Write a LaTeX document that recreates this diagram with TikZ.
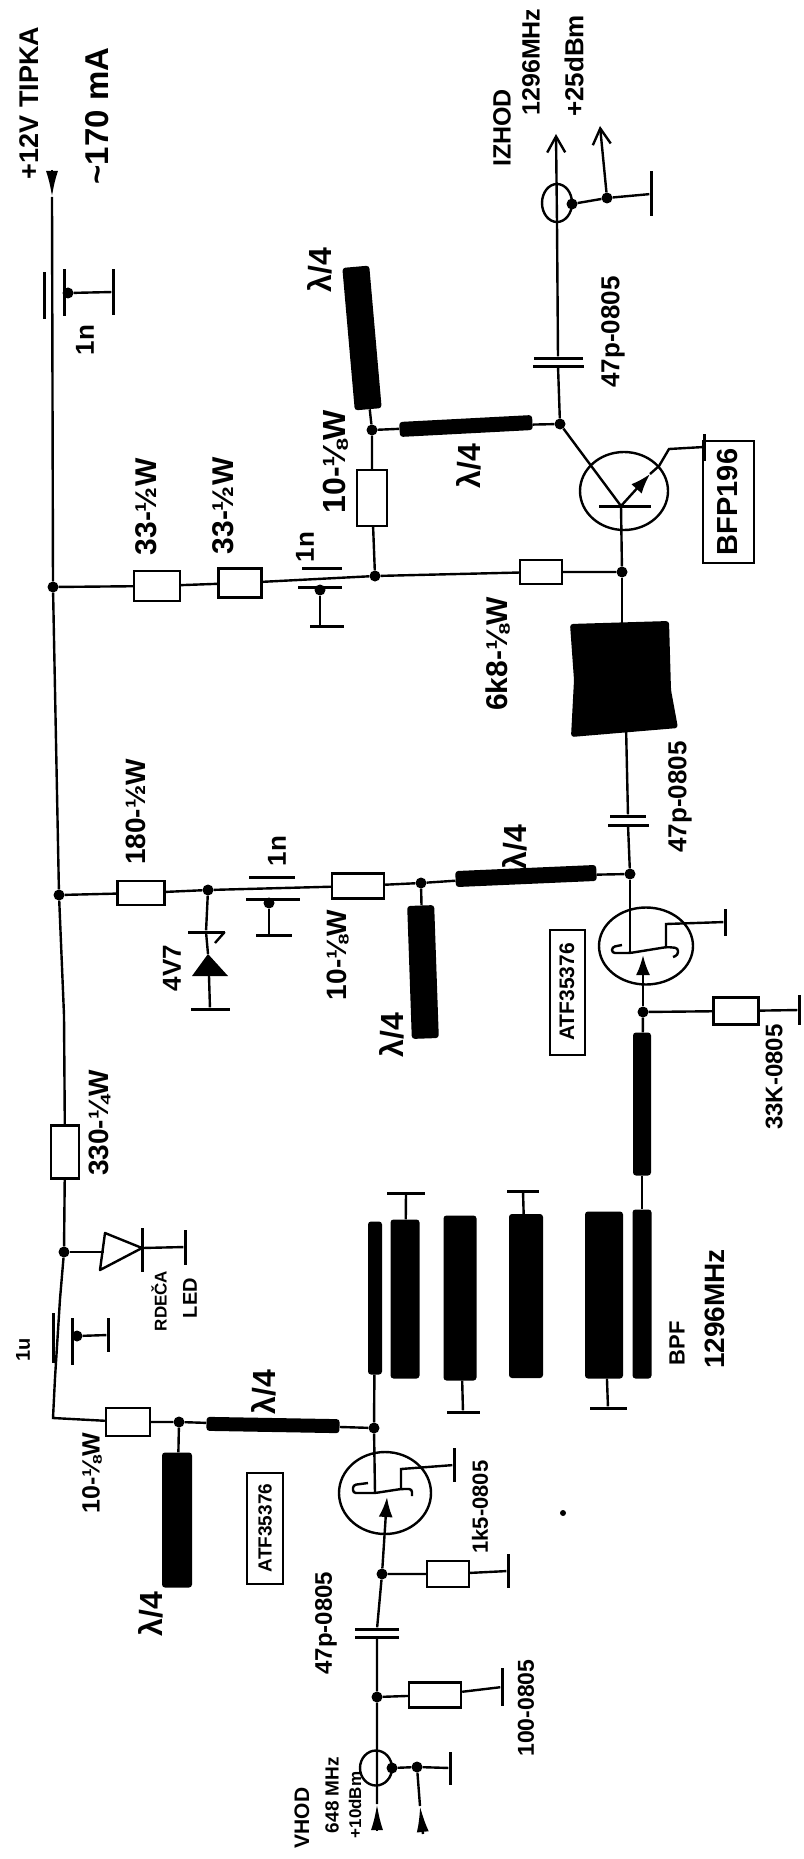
\documentclass[tikz,border=0pt]{standalone}
\usepackage{fontspec}
\setmainfont{Liberation Sans}
\usetikzlibrary{arrows.meta,shapes.geometric}
\tikzset{
	wire/.style={line width=2.4pt},
	dot/.style={circle,fill=black,inner sep=0pt,minimum size=11pt},
	res/.style={draw,line width=2.4pt,fill=white,inner sep=0pt},
	strip/.style={fill=black,rounded corners=3pt,inner sep=0pt},
	vbar/.style={fill=black,inner sep=0pt,minimum width=3pt},
	hbar/.style={fill=black,inner sep=0pt,minimum height=3pt},
	can/.style={draw,ellipse,line width=2.4pt,inner sep=0pt},
	lab/.style={rotate=90,inner sep=0pt,font=\bfseries\fontsize{#1}{#1}\selectfont},
	lab/.default=26,
	part/.style={draw,line width=2pt,rotate=90,inner sep=3pt,font=\bfseries\fontsize{#1}{#1}\selectfont},
	outarrow/.style={wire,-{Straight Barb[length=16pt,width=18pt,line width=2.4pt]}},
	wedge/.style={wire,-{Latex[length=26pt,width=12pt]}},
	gatearrow/.style={wire,-{Latex[length=20pt,width=14pt]}}
}
\begin{document}
\begin{tikzpicture}[x=1pt,y=-1pt]
	\useasboundingbox (0,0) rectangle (803,1859);
	\coordinate (T0) at (52,170);
	\coordinate (T1) at (52,197);
	\node [dot] (B1) at (53,587) {};
	\node [dot] (B2) at (59,895) {};
	\coordinate (B2a) at (64,1015);
	\node [res,minimum width=28pt,minimum height=53pt] (R1) at (65,1152) {};
	\node [dot] (B3) at (64,1252) {};
	\coordinate (B4) at (60,1299);
	\coordinate (B5) at (55,1378);
	\coordinate (B6) at (53,1418);
	\node [res,minimum width=44pt,minimum height=28pt] (R2) at (128,1422) {};
	\node [dot] (J1) at (179,1422) {};
	\draw [wedge] (T0) -- (T1);
	\draw [wire] (T1) -- (B1) -- (B2) -- (B2a) -- (R1) -- (B3) -- (B4) -- (B5) -- (B6) -- (R2) -- (J1);

	\node [vbar,minimum height=47pt] (C1a) at (44,296) {};
	\node [vbar,minimum height=47pt] (C1b) at (64,293) {};
	\node [dot] (C1c) at (68,293) {};
	\node [vbar,minimum height=46pt] (G1) at (113,292) {};
	\draw [wire] (C1c) -- (G1);

	\node [res,minimum width=46pt,minimum height=30pt] (R3) at (157,586) {};
	\node [res,minimum width=43pt,minimum height=29pt] (R4) at (240,583) {};
	\node [dot] (J2) at (375,576) {};
	\draw [wire] (B1) -- (R3) -- (R4) -- (J2);
	\node [hbar,minimum width=40pt] (C2a) at (322,568) {};
	\node [hbar,minimum width=44pt] (C2b) at (320,587) {};
	\node [dot] (C2c) at (320,590) {};
	\node [hbar,minimum width=34pt] (G2) at (327,626) {};
	\draw [wire] (C2c) -- (C2c |- G2);

	\node [res,minimum width=30pt,minimum height=56pt] (R5) at (372,498) {};
	\node [dot] (J3) at (372,430) {};
	\draw [wire] (J2) -- (R5) -- (J3);
	\node [strip,minimum width=27pt,minimum height=143pt,rotate=5] (S1) at (362,338) {};
	\draw [wire] (J3) -- (S1);
	\node [strip,minimum width=133pt,minimum height=15pt,rotate=3] (S2) at (466,426) {};
	\node [dot] (J4) at (560,424) {};
	\draw [wire] (J3) -- (S2) -- (J4);

	\node [hbar,minimum width=49pt] (C3a) at (558,358) {};
	\node [hbar,minimum width=51pt] (C3b) at (558,366) {};
	\node [can,minimum width=30pt,minimum height=38pt] (X1) at (557,203) {};
	\coordinate (O1) at (556,134);
	\draw [wire] (J4) -- (C3b) (C3a) -- (X1.south);
	\draw [outarrow] (X1.south) -- (O1);
	\node [dot] (X1a) at (572,204) {};
	\node [dot] (X1b) at (607,198) {};
	\node [vbar,minimum height=45pt] (G3) at (651,194) {};
	\coordinate (O2) at (600,126);
	\draw [wire] (X1a) -- (X1b) -- (G3);
	\draw [outarrow] (X1b) -- (O2);

	\node [can,minimum width=88pt,minimum height=78pt] (Q1) at (624,491) {};
	\coordinate (Q1e) at (621,506);
	\node [hbar,minimum width=52pt] (Q1b) at (625,506) {};
	\coordinate (Q1f) at (659,466);
	\coordinate (Q1g) at (669,449);
	\node [vbar,minimum height=27pt] (G4) at (704,447) {};
	\draw [wire] (J4) -- (Q1e);
	\draw [gatearrow] (Q1e) -- (650,474);
	\draw [wire] (650,474) -- (Q1f) -- (Q1g) -- (G4);
	\node [dot] (J5) at (622,572) {};
	\draw [wire] (Q1e) -- (J5);

	\node [res,minimum width=42pt,minimum height=24pt] (R6) at (541,572) {};
	\draw [wire] (J2) -- (R6) -- (J5);
	\coordinate (K1) at (622,624);
	\coordinate (K2) at (626,725);
	\fill [rounded corners=3pt] (570,624) -- (669,621) -- (671,690) -- (678,728) -- (571,737) -- (574,680) -- cycle;
	\draw [wire] (J5) -- (K1);

	\node [hbar,minimum width=36pt] (C4a) at (628,816) {};
	\node [hbar,minimum width=41pt] (C4b) at (628,825) {};
	\node [dot] (J6) at (630,874) {};
	\draw [wire] (K2) -- (C4a) (C4b) -- (J6);

	\node [res,minimum width=47pt,minimum height=24pt] (R7) at (141,893) {};
	\node [dot] (J7) at (208,890) {};
	\node [res,minimum width=52pt,minimum height=25pt] (R8) at (358,886) {};
	\node [dot] (J8) at (421,883) {};
	\draw [wire] (B2) -- (R7) -- (J7) -- (R8) -- (J8);
	\node [hbar,minimum width=46pt] (C5a) at (272,877) {};
	\node [hbar,minimum width=54pt] (C5b) at (273,899) {};
	\node [dot] (C5c) at (269,903) {};
	\node [hbar,minimum width=36pt] (G5) at (274,935) {};
	\draw [wire] (C5c) -- (C5c |- G5);
	\node [hbar,minimum width=37pt] (D1a) at (206,932) {};
	\draw [wire,line join=round] (D1a.east) -- (215,943);
	\coordinate (D1b) at (208,954);
	\coordinate (D1c) at (192,976);
	\coordinate (D1d) at (228,976);
	\coordinate (D1e) at (209,976);
	\node [hbar,minimum width=39pt] (G6) at (210,1009) {};
	\draw [wire] (J7) -- (D1a);
	\draw [wire] (D1a) -- (D1b);
	\fill (D1b) -- (D1d) -- (D1c) -- cycle;
	\draw [wire] (D1e) -- (G6);

	\node [strip,minimum width=141pt,minimum height=16pt,rotate=2.5] (S3) at (526,876) {};
	\draw [wire] (J8) -- (S3) -- (J6);
	\node [strip,minimum width=27pt,minimum height=133pt,rotate=2] (S4) at (423,972) {};
	\draw [wire] (J8) -- (S4);

	\node [can,minimum width=94pt,minimum height=77pt] (Q2) at (646,946) {};
	\coordinate (Q2d) at (630,953);
	\draw [wire] (J6) -- (Q2d);
	\draw [wire,rounded corners=3pt] (622,945) -- (612,947) -- (612,953) -- (Q2d) -- (667,947) -- (678,948) -- (678,955) -- (673,957);
	\coordinate (Q2s) at (666,947);
	\coordinate (Q2t) at (666,924);
	\node [vbar,minimum height=27pt] (G7) at (725,922) {};
	\draw [wire] (Q2s) -- (Q2t) -- (G7);
	\node [dot] (J9) at (643,1012) {};
	\coordinate (Q2g) at (643,955);
	\draw [gatearrow] (J9) -- (Q2g);
	\node [res,minimum width=45pt,minimum height=27pt] (R9) at (736,1011) {};
	\node [vbar,minimum height=30pt] (G8) at (799,1010) {};
	\draw [wire] (J9) -- (R9) -- (G8);

	\node [strip,minimum width=18pt,minimum height=143pt] (S5) at (642,1104) {};
	\draw [wire] (J9) -- (S5);
	\node [strip,minimum width=19pt,minimum height=169pt] (F6) at (642,1294) {};
	\draw [wire] (S5) -- (F6);
	\node [strip,minimum width=38pt,minimum height=167pt] (F5) at (604,1295) {};
	\node [strip,minimum width=34pt,minimum height=164pt] (F4) at (526,1296) {};
	\node [strip,minimum width=33pt,minimum height=165pt] (F3) at (460,1298) {};
	\node [strip,minimum width=29pt,minimum height=159pt] (F2) at (405,1299) {};
	\node [strip,minimum width=14pt,minimum height=153pt] (F1) at (375,1298) {};
	\node [hbar,minimum width=38pt] (G9) at (406,1193) {};
	\node [hbar,minimum width=32pt] (G10) at (523,1191) {};
	\node [hbar,minimum width=33pt] (G11) at (463,1412) {};
	\node [hbar,minimum width=37pt] (G12) at (608,1408) {};
	\draw [wire] (F2) -- (G9) (F4) -- (G10) (F3) -- (G11) (F5) -- (G12);

	\coordinate (L1a) at (104,1252);
	\coordinate (L1b) at (105,1233);
	\coordinate (L1c) at (100,1270);
	\coordinate (L1d) at (142,1248);
	\node [vbar,minimum height=44pt] (L1e) at (142,1250) {};
	\node [vbar,minimum height=35pt] (G13) at (185,1247) {};
	\draw [wire] (B3) -- (L1a);
	\draw [wire,line join=round] (L1c) -- (L1b) -- (L1d) -- cycle;
	\draw [wire] (L1d) -- (G13);

	\node [vbar,minimum height=50pt] (C6a) at (53,1338) {};
	\node [vbar,minimum height=47pt] (C6b) at (72,1341) {};
	\node [dot] (C6c) at (77,1336) {};
	\node [vbar,minimum height=34pt] (G14) at (108,1335) {};
	\draw [wire] (C6c) -- (G14);

	\node [strip,minimum width=133pt,minimum height=14pt,rotate=-1] (S6) at (273,1425) {};
	\node [dot] (J10) at (374,1428) {};
	\draw [wire] (J1) -- (S6) -- (J10) -- (F1);
	\node [strip,minimum width=30pt,minimum height=135pt] (S7) at (177,1520) {};
	\draw [wire] (J1) -- (S7);

	\node [can,minimum width=92pt,minimum height=82pt] (Q3) at (385,1493) {};
	\coordinate (Q3d) at (375,1493);
	\draw [wire] (J10) -- (Q3d);
	\draw [wire,rounded corners=3pt] (368,1483) -- (353,1485) -- (353,1493) -- (Q3d) -- (401,1489) -- (412,1489) -- (412,1496);
	\coordinate (Q3s) at (401,1489);
	\coordinate (Q3t) at (401,1469);
	\node [vbar,minimum height=34pt] (G15) at (454,1465) {};
	\draw [wire] (Q3s) -- (Q3t) -- (G15);
	\node [dot] (J11) at (382,1574) {};
	\coordinate (Q3g) at (387,1497);
	\draw [gatearrow] (J11) -- (Q3g);
	\node [res,minimum width=42pt,minimum height=26pt] (R10) at (448,1574) {};
	\node [vbar,minimum height=34pt] (G16) at (508,1571) {};
	\draw [wire] (J11) -- (R10) -- (G16);
	\node [hbar,minimum width=44pt] (C7a) at (377,1629) {};
	\node [hbar,minimum width=44pt] (C7b) at (377,1637) {};
	\node [dot] (J12) at (377,1697) {};
	\draw [wire] (J11) -- (C7a) (C7b) -- (J12);
	\node [res,minimum width=52pt,minimum height=25pt] (R11) at (435,1695) {};
	\node [vbar,minimum height=38pt] (G17) at (502,1687) {};
	\draw [wire] (J12) -- (R11) -- (G17);

	\node [can,minimum width=32pt,minimum height=35pt] (X2) at (376,1768) {};
	\coordinate (V1) at (377,1831);
	\coordinate (V2) at (377,1804);
	\node [dot] (X2a) at (392,1768) {};
	\node [dot] (X2b) at (417,1767) {};
	\node [vbar,minimum height=33pt] (G18) at (450,1768) {};
	\coordinate (V3) at (423,1834);
	\coordinate (V4) at (420,1806);
	\draw [wire] (J12) -- (V2) (X2a) -- (X2b) -- (G18) (X2b) -- (V4);
	\draw [wedge] (V1) -- (V2);
	\draw [wedge] (V3) -- (V4);

	\node [dot,minimum size=6pt] (P1) at (563,1513) {};

	\node [lab=27] (T1a) at (29,103) {+12V TIPKA};
	\node [lab=33] (T1b) at (97,116) {\textasciitilde 170 mA};
	\node [lab] (T2) at (85,340) {1n};
	\node [lab=25] (T3) at (502,128) {IZHOD};
	\node [lab=25] (T4) at (531,62) {1296MHz};
	\node [lab] (T5) at (574,66) {+25dBm};
	\node [lab=32] (T6) at (320,270) {λ/4};
	\node [lab=32] (T7) at (469,466) {λ/4};
	\node [lab] (T8) at (613,332) {47p-0805};
	\node [lab=32] (T9) at (336,462) {10-⅛W};
	\node [lab=30] (T10) at (146,507) {33-½W};
	\node [lab=30] (T11) at (223,506) {33-½W};
	\node [lab] (T12) at (305,547) {1n};
	\node [part=29,minimum width=122pt,minimum height=51pt] (T13) at (728,502) {BFP196};
	\node [lab=30] (T14) at (498,654) {6k8-⅛W};
	\node [lab] (T15) at (680,797) {47p-0805};
	\node [lab=28] (T16) at (136,812) {180-½W};
	\node [lab] (T17) at (277,851) {1n};
	\node [lab] (T18) at (172,968) {4V7};
	\node [lab=28] (T19) at (338,955) {10-⅛W};
	\node [lab=32] (T20) at (515,847) {λ/4};
	\node [lab=32] (T21) at (392,1035) {λ/4};
	\node [part=21,minimum width=125pt,minimum height=35pt] (T22) at (567,992) {ATF35376};
	\node [lab=24] (T23) at (774,1077) {33K-0805};
	\node [lab=28] (T24) at (100,1123) {330-¼W};
	\node [lab=17] (T25) at (159,1301) {RDEČA};
	\node [lab=20] (T26) at (190,1298) {LED};
	\node [lab=20] (T27) at (23,1350) {1u};
	\node [lab=22] (T28) at (677,1343) {BPF};
	\node [lab=28] (T29) at (715,1309) {1296MHz};
	\node [lab=25] (T30) at (92,1473) {10-⅛W};
	\node [lab=32] (T31) at (264,1392) {λ/4};
	\node [lab=32] (T32) at (151,1614) {λ/4};
	\node [part=19,minimum width=111pt,minimum height=36pt] (T33) at (265,1528) {ATF35376};
	\node [lab=22] (T34) at (480,1507) {1k5-0805};
	\node [lab=24] (T35) at (326,1623) {47p-0805};
	\node [lab=23] (T36) at (526,1708) {100-0805};
	\node [lab=21] (T37) at (302,1818) {VHOD};
	\node [lab=19] (T38) at (332,1795) {648 MHz};
	\node [lab=17] (T39) at (355,1805) {+10dBm};
\end{tikzpicture}
\end{document}
